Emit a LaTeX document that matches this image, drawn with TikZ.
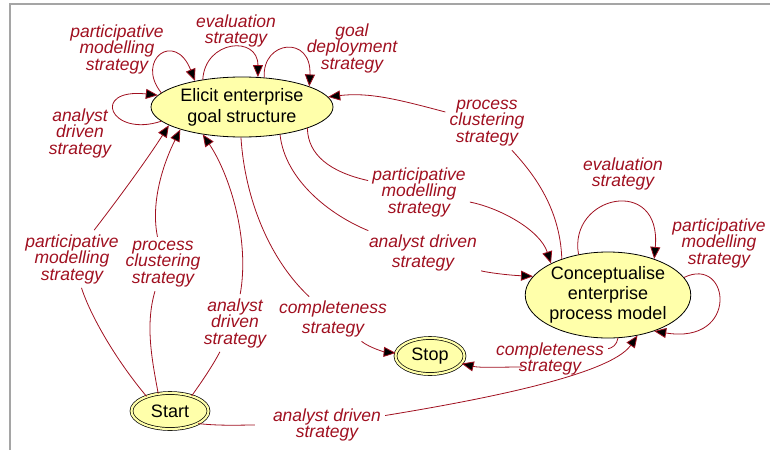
\documentclass[tikz,border=0pt]{standalone}
\usepackage{fontspec}
\setmainfont{Liberation Sans}
\usetikzlibrary{shapes.geometric,arrows.meta}
\definecolor{strat}{RGB}{160,16,32}
\definecolor{statefill}{RGB}{255,255,170}
\definecolor{framegray}{RGB}{165,165,165}
\begin{document}
\begin{tikzpicture}[x=1pt,y=-1pt,
 state/.style={ellipse,draw=black,fill=statefill,line width=0.8pt,inner sep=0pt,font=\fontsize{18}{21}\selectfont,align=center,text=black},
 endstate/.style={state,double=statefill,double distance=2.2pt,line width=0.7pt},
 lab/.style={font=\fontsize{17.5}{16.5}\selectfont\itshape,text=strat,align=center,inner sep=4pt},
 conn/.style={draw=strat,line width=0.8pt},
 arr/.style={conn,-{Triangle[length=12pt,width=10pt,fill=black]}},
]
\useasboundingbox (0,0) rectangle (770,450);
\draw[framegray,line width=1.2pt] (10,450) -- (10,4) -- (770,4);

% states
\node[state,minimum width=182pt,minimum height=60pt] (E) at (242,107) {Elicit enterprise\\goal structure};
\node[state,minimum width=160pt,minimum height=86pt,font=\fontsize{18}{20}\selectfont] (C) at (608,295) {Conceptualise\\enterprise\\process model};
\node[endstate,minimum width=69pt,minimum height=36pt] (S) at (430,356) {Stop};
\node[endstate,minimum width=77pt,minimum height=36pt] (St) at (170,411) {Start};

% labels
\node[lab] (l1) at (117,49) {participative\\modelling\\strategy};
\node[lab] (l2) at (236,31) {evaluation\\strategy};
\node[lab] (l3) at (352,48) {goal\\deployment\\strategy};
\node[lab] (l4) at (80,133) {analyst\\driven\\strategy};
\node[lab] (l5) at (487,123) {process\\clustering\\strategy};
\node[lab] (l6) at (419,192) {participative\\modelling\\strategy};
\node[lab] (l7) at (423,253) {analyst driven\\[3.5pt]strategy};
\node[lab] (l8) at (333,319) {completeness\\[3.5pt]strategy};
\node[lab] (l9) at (72,259) {participative\\modelling\\strategy};
\node[lab] (l10) at (163,264) {process\\clustering\\strategy};
\node[lab] (l11) at (235,323) {analyst\\driven\\strategy};
\node[lab] (l12) at (327,425) {analyst driven\\strategy};
\node[lab] (l13) at (623,174) {evaluation\\strategy};
\node[lab] (l14) at (719,243) {participative\\modelling\\strategy};
\node[lab] (l15) at (550,359) {completeness\\strategy};

% self loops on Elicit
\draw[arr] (E.170) .. controls (135,60) and (175,30) .. (E.151);
\draw[arr] (E.145) .. controls (205,40) and (258,35) .. (E.62);
\draw[arr] (E.53) .. controls (262,40) and (312,35) .. (E.17);
\draw[arr] (E.190) .. controls (110,138) and (90,88) .. (E.172);

% C -> E process clustering
\draw[conn] (C.142) .. controls (560,205) and (530,170) .. (l5);
\draw[arr] (l5) .. controls (400,100) and (370,92) .. (E);
% E -> C participative modelling
\draw[conn] (E.342) .. controls (308,155) and (330,172) .. (l6);
\draw[arr] (l6) .. controls (500,208) and (540,230) .. (C.151);
% E -> C analyst driven
\draw[conn] (E.324) .. controls (285,180) and (330,215) .. (l7);
\draw[arr] (l7) .. controls (485,272) and (505,275) .. (C.166);
% E -> Stop completeness
\draw[conn] (E.268) .. controls (245,200) and (270,260) .. (l8);
\draw[arr] (l8) .. controls (370,348) and (385,352) .. (S);
% Start -> E
\draw[conn] (St.148) .. controls (120,365) and (92,320) .. (l9);
\draw[arr] (l9) .. controls (125,190) and (150,155) .. (E.194);
\draw[conn] (St.124) .. controls (152,360) and (145,325) .. (l10);
\draw[arr] (l10) .. controls (150,200) and (165,160) .. (E.200);
\draw[conn] (St.35) .. controls (203,380) and (213,365) .. (l11);
\draw[arr] (l11) .. controls (250,240) and (230,175) .. (E.215);
% Start -> C
\draw[conn,shorten >=14pt] (St.336) .. controls (220,426) and (240,425) .. (l12);
\draw[arr] (l12) .. controls (480,400) and (610,375) .. (C.306);
% self loops on C
\draw[arr] (C.126) .. controls (568,195) and (662,175) .. (C.38);
\draw[arr] (C.13) .. controls (730,255) and (740,345) .. (C.322);
% C -> Stop
\draw[conn] (C.283) .. controls (617,345) and (612,348) .. (l15);
\draw[arr] ([xshift=-28pt,yshift=-8pt]l15.center) .. controls (500,367) and (480,368) .. (S);
\end{tikzpicture}
\end{document}
